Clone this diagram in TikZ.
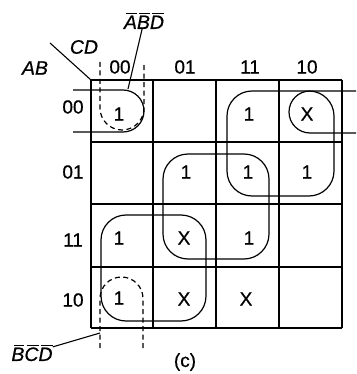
\documentclass[tikz,border=0pt]{standalone}
\usepackage{fontspec}
\setmainfont{Liberation Sans}[UprightFeatures={FakeBold=0.6},ItalicFeatures={FakeBold=0.6}]
\newcommand\obar[1]{\setbox0\hbox{#1}\vbox{\offinterlineskip\hbox to\wd0{\hskip2.5pt\leaders\hrule height0.9pt\hfill\hskip0pt}\kern1.6pt\box0}}
\begin{document}
\begin{tikzpicture}[x=1pt,y=-1pt,
  gridline/.style={line width=1.5pt},
  kloop/.style={line width=1.2pt, rounded corners=25pt},
  wloop/.style={line width=1.2pt, rounded corners=21pt},
  dloop/.style={line width=1.2pt, dash pattern=on 5pt off 3.5pt},
  lead/.style={line width=1.1pt},
  lbl/.style={font=\fontsize{19}{21}\selectfont, inner sep=0pt},
  ilbl/.style={font=\fontsize{19.5}{21}\selectfont\itshape, inner sep=0pt}]
\useasboundingbox (0,0) rectangle (356,374);
% grid
\foreach \x in {91,153,216,279,342} \draw[gridline] (\x,80) -- (\x,328);
\foreach \y in {80,142,204,267,328} \draw[gridline] (91,\y) -- (342,\y);
% corner labels
\coordinate (diagA) at (50,43);
\coordinate (diagB) at (91,80);
\draw[lead] (diagA) -- (diagB);
\node[ilbl] (cd) at (84,47) {CD};
\node[ilbl] (ab) at (35,68) {AB};
% column headers
\node[lbl] (h00) at (120,67) {00};
\node[lbl] (h01) at (185,67) {01};
\node[lbl] (h11) at (250,67) {11};
\node[lbl] (h10) at (307,67) {10};
% row headers
\node[lbl] (r00) at (73,107) {00};
\node[lbl] (r01) at (73,172) {01};
\node[lbl] (r11) at (73,240) {11};
\node[lbl] (r10) at (73,300) {10};
% cells
\node[lbl] (a1) at (119,114) {1};
\node[lbl] (a3) at (249,114) {1};
\node[lbl] (a4) at (307,114) {X};
\node[lbl] (b2) at (186,172) {1};
\node[lbl] (b3) at (248,172) {1};
\node[lbl] (b4) at (307,172) {1};
\node[lbl] (c1) at (119,238) {1};
\node[lbl] (c2) at (184,238) {X};
\node[lbl] (c3) at (249,238) {1};
\node[lbl] (d1) at (119,298) {1};
\node[lbl] (d2) at (184,299) {X};
\node[lbl] (d3) at (246,299) {X};
% loops
\draw[kloop] (227,91) rectangle (334,196);
\draw[kloop] (163,154) rectangle (269,259);
\draw[kloop] (101,215) rectangle (206,321);
\draw[wloop] (73,90) -- (144,90) -- (144,132) -- (73,132);
\draw[wloop] (356,91) -- (289,91) -- (289,133) -- (356,133);
\draw[dloop, rounded corners=22pt] (100,62) -- (100,130) -- (144,130) -- (144,62);
\draw[dloop, rounded corners=21.5pt] (100,348) -- (100,277) -- (143,277) -- (143,348);
% term labels
\node[ilbl] (abd) at (144,21) {\obar{A}\obar{B}\obar{D}};
\coordinate (abdend) at (128,89);
\draw[lead] (abd) -- (abdend);
\node[ilbl] (bcd) at (32,353) {\obar{B}\obar{C}\obar{D}};
\coordinate (bcdend) at (100,333);
\draw[lead] (bcd) -- (bcdend);
\node[lbl] (cap) at (185,362) {(c)};
\end{tikzpicture}
\end{document}
